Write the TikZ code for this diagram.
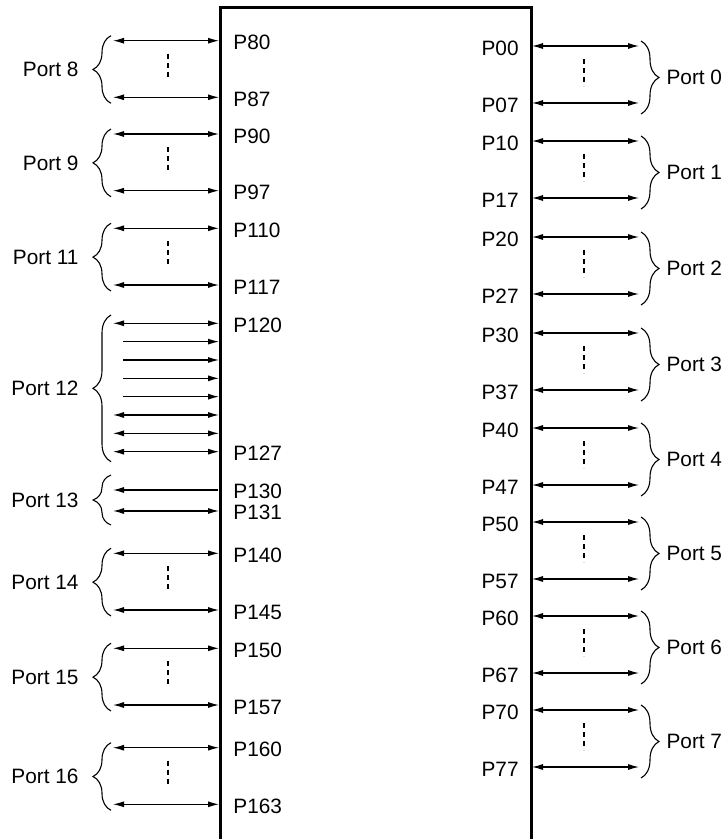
\documentclass[tikz,border=0pt]{standalone}
\usepackage{fontspec}
\setmainfont{Liberation Sans}
\usetikzlibrary{decorations.pathreplacing, arrows.meta, calc}

\begin{document}
\begin{tikzpicture}[x=0.5pt, y=-0.5pt,
  every node/.style={font=\fontsize{10.4}{12}\selectfont, inner sep=0pt},
  chip/.style={line width=1.5pt},
  pinline/.style={line width=0.55pt},
  bidir/.style={pinline, {Latex[length=5.5pt,width=3pt]}-{Latex[length=5.5pt,width=3pt]}},
  inpin/.style={pinline, -{Latex[length=5.5pt,width=3pt]}},
  outpin/.style={pinline, {Latex[length=5.5pt,width=3pt]}-},
  gap/.style={line width=0.6pt, dash pattern=on 2.5pt off 2pt},
  lbrace/.style={decorate, decoration={brace, amplitude=9pt}, line width=0.55pt},
  portl/.style={midway, anchor=east, xshift=-16pt},
  portr/.style={midway, anchor=west, xshift=12.5pt},
]
  \useasboundingbox (0,0) rectangle (722,839);

  % chip outline, open at the bottom
  \coordinate (cbl) at (220,839);
  \coordinate (ctl) at (220,8);
  \coordinate (ctr) at (531,8);
  \coordinate (cbr) at (531,839);
  \draw[chip] (cbl) -- (ctl) -- (ctr) -- (cbr);

  % left side, ports with two pins shown
  \foreach \n/\ya/\yb/\pa/\pb in {8/40.7/97.3/P80/P87, 9/134/190.7/P90/P97,
      11/228.3/285/P110/P117, 14/553.3/610/P140/P145,
      15/648.3/705/P150/P157, 16/747.7/804.3/P160/P163}{
    \coordinate (w\n-a) at (219,\ya);
    \coordinate (w\n-ae) at (113,\ya);
    \coordinate (w\n-b) at (219,\yb);
    \coordinate (w\n-be) at (113,\yb);
    \draw[bidir] (w\n-ae) -- (w\n-a);
    \draw[bidir] (w\n-be) -- (w\n-b);
    \node[anchor=west] (w\n-al) at ($(w\n-a)+(14,2)$) {\pa};
    \node[anchor=west] (w\n-bl) at ($(w\n-b)+(14,2)$) {\pb};
    \coordinate (w\n-dt) at (168,\ya+13);
    \coordinate (w\n-db) at (168,\yb-17);
    \draw[gap] (w\n-dt) -- (w\n-db);
    \draw[lbrace] (111,\yb+6) -- (111,\ya-5) node[portl] (w\n-port) {Port \n};
  }

  % port 12: eight pins
  \foreach \i/\kind in {0/bidir, 1/inpin, 2/inpin, 3/inpin, 4/inpin, 5/bidir, 6/bidir, 7/bidir}{
    \pgfmathsetmacro{\y}{323.3+18.34*\i}
    \coordinate (w12-\i) at (219,\y);
    \ifnum\i>0 \ifnum\i<5
      \coordinate (w12-\i e) at (123,\y);
    \else
      \coordinate (w12-\i e) at (113,\y);
    \fi\else
      \coordinate (w12-\i e) at (113,\y);
    \fi
    \draw[\kind] (w12-\i e) -- (w12-\i);
  }
  \node[anchor=west] (w12-al) at ($(w12-0)+(14,2)$) {P120};
  \node[anchor=west] (w12-bl) at ($(w12-7)+(14,2)$) {P127};
  \draw[lbrace] (111,461.7) -- (111,315) node[portl] (w12-port) {Port 12};

  % port 13: two pins
  \coordinate (w13-a) at (218,490);
  \coordinate (w13-ae) at (113,490);
  \coordinate (w13-b) at (219,511);
  \coordinate (w13-be) at (113,511);
  \draw[outpin] (w13-ae) -- (w13-a);
  \draw[bidir] (w13-be) -- (w13-b);
  \node[anchor=west] (w13-al) at ($(w13-a)+(15,1)$) {P130};
  \node[anchor=west] (w13-bl) at ($(w13-b)+(14,1)$) {P131};
  \draw[lbrace] (111,525) -- (111,475) node[portl] (w13-port) {Port 13};

  % right side, ports 0 to 7
  \foreach \n/\ya in {0/46, 1/141, 2/237, 3/333, 4/428, 5/522, 6/616, 7/710}{
    \pgfmathsetmacro{\yb}{\ya+57}
    \coordinate (e\n-a) at (532,\ya);
    \coordinate (e\n-ae) at (639,\ya);
    \coordinate (e\n-b) at (532,\yb);
    \coordinate (e\n-be) at (639,\yb);
    \draw[bidir] (e\n-a) -- (e\n-ae);
    \draw[bidir] (e\n-b) -- (e\n-be);
    \node[anchor=east] (e\n-al) at ($(e\n-a)+(-13,2)$) {P\n0};
    \node[anchor=east] (e\n-bl) at ($(e\n-b)+(-13,2)$) {P\n7};
    \coordinate (e\n-dt) at (584,\ya+13);
    \coordinate (e\n-db) at (584,\yb-17);
    \draw[gap] (e\n-dt) -- (e\n-db);
    \draw[lbrace] (641,\ya-5) -- (641,\yb+11) node[portr] (e\n-port) {Port \n};
  }
\end{tikzpicture}
\end{document}
